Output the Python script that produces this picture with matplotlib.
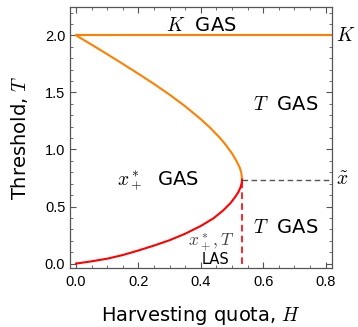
import numpy as np
import matplotlib.pyplot as plt
from matplotlib.ticker import MultipleLocator

plt.rcParams['mathtext.fontset'] = 'cm'

# values
K = 2.0
x_tilde = 0.735
H_crit = 0.532
H_max = 0.82

# upper (orange) branch of the fold, H vs T
upper_H = [0.0, 0.05, 0.10, 0.15, 0.20, 0.25, 0.30, 0.35, 0.40, 0.43, 0.46,
           0.48, 0.50, 0.515, 0.525, 0.530, 0.532]
upper_T = [2.000, 1.918, 1.835, 1.750, 1.663, 1.574, 1.480, 1.378, 1.265, 1.190,
           1.105, 1.040, 0.965, 0.895, 0.839, 0.790, 0.735]

# lower (red) branch
lower_H = [0.0, 0.05, 0.10, 0.15, 0.20, 0.25, 0.30, 0.35, 0.40, 0.44, 0.47,
           0.495, 0.51, 0.52, 0.527, 0.531, 0.532]
lower_T = [0.000, 0.020, 0.043, 0.075, 0.115, 0.158, 0.205, 0.262, 0.330, 0.396,
           0.462, 0.530, 0.584, 0.625, 0.668, 0.705, 0.735]

orange = '#ff8000'
frame_col = '#555555'

fig = plt.figure(figsize=(3.58, 3.27), dpi=100)
ax = fig.add_axes([0.196, 0.180, 0.731, 0.799])

ax.plot([0, H_max], [K, K], color=orange, lw=1.5)
ax.plot(upper_H, upper_T, color=orange, lw=1.5)
ax.plot(lower_H, lower_T, color='red', lw=1.5)
ax.plot([H_crit, H_crit], [0, x_tilde], color='red', lw=1.2, ls=(0, (4, 2.5)))
ax.plot([H_crit, H_max], [x_tilde, x_tilde], color='#555555', lw=1.0, ls=(0, (4, 2.5)))

ax.set_xlim(-0.019, H_max)
ax.set_ylim(-0.04, 2.25)

ax.xaxis.set_major_locator(MultipleLocator(0.2))
ax.xaxis.set_minor_locator(MultipleLocator(0.05))
ax.yaxis.set_major_locator(MultipleLocator(0.5))
ax.yaxis.set_minor_locator(MultipleLocator(0.1))
ax.tick_params(which='both', direction='in', top=True, right=True, color=frame_col)
ax.tick_params(which='major', length=4, width=0.8)
ax.tick_params(which='minor', length=2, width=0.6)
ax.tick_params(labelsize=10.5)
ax.tick_params(axis='x', pad=5)
for lab in ax.get_xticklabels() + ax.get_yticklabels():
    lab.set_family('Liberation Sans')
for sp in ax.spines.values():
    sp.set_color(frame_col)
    sp.set_linewidth(0.9)

ax.set_xlabel('Harvesting quota, $H$', fontsize=14, labelpad=11)
ax.set_ylabel('Threshold, $T$', fontsize=14, labelpad=11)

fs = 14
ax.text(0.40, 2.085, '$K$  GAS', fontsize=fs, ha='center', va='center')
ax.text(0.672, 1.395, '$T$  GAS', fontsize=fs, ha='center', va='center')
ax.text(0.262, 0.72, '$x^*_+$  GAS', fontsize=fs, ha='center', va='center')
ax.text(0.672, 0.315, '$T$  GAS', fontsize=fs, ha='center', va='center')
ax.text(0.433, 0.19, '$x^*_+, T$', fontsize=12.5, ha='center', va='center', color='#444444')
ax.text(0.448, 0.035, 'LAS', fontsize=10.5, ha='center', va='center')

ax.text(1.015, K, '$K$', transform=ax.get_yaxis_transform(), fontsize=14, ha='left', va='center')
ax.text(1.015, x_tilde, r'$\tilde{x}$', transform=ax.get_yaxis_transform(), fontsize=14, ha='left', va='center')

fig.savefig('out.png', dpi=100)
